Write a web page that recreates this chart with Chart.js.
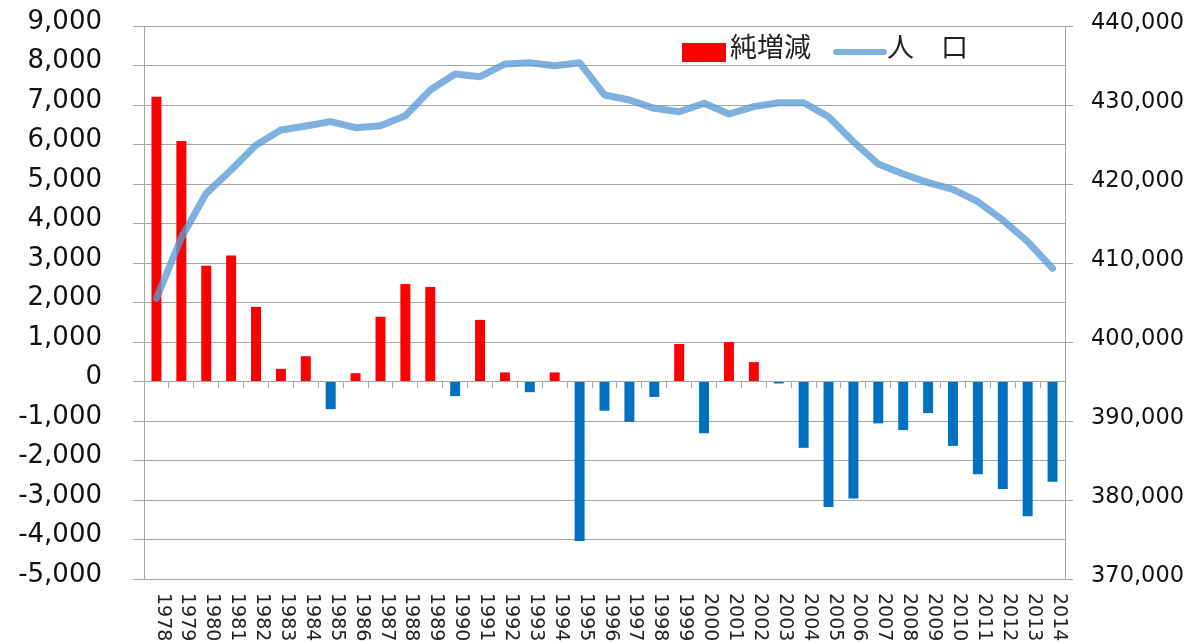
<!DOCTYPE html>
<html>
<head>
<meta charset="utf-8">
<script src="https://cdn.jsdelivr.net/npm/chart.js@4/dist/chart.umd.min.js"></script>
<style>
  html, body { margin: 0; padding: 0; background: #fff; }
  #wrap { width: 1190px; height: 642px; }
</style>
</head>
<body>
<div id="wrap"><canvas id="c" width="1190" height="642"></canvas></div>
<script>
const years = ['1978','1979','1980','1981','1982','1983','1984','1985','1986','1987','1988','1989','1990','1991','1992','1993','1994','1995','1996','1997','1998','1999','2000','2001','2002','2003','2004','2005','2006','2007','2008','2009','2010','2011','2012','2013','2014'];
const netChange = [7210, 6090, 2930, 3190, 1890, 320, 640, -700, 210, 1640, 2470, 2390, -370, 1560, 230, -270, 230, -4040, -740, -1020, -390, 950, -1310, 1000, 490, -50, -1680, -3180, -2960, -1060, -1230, -800, -1630, -2350, -2720, -3410, -2540];
const population = [405530, 413200, 418820, 421770, 424940, 426840, 427340, 427890, 427130, 427380, 428640, 431900, 433920, 433580, 435190, 435360, 434980, 435360, 431270, 430630, 429580, 429150, 430210, 428860, 429790, 430290, 430290, 428520, 425350, 422530, 421270, 420170, 419330, 417760, 415440, 412700, 409330];
const leftTicks = { min: -5000, max: 9000, step: 1000 };
const rightTicks = { min: 370000, max: 440000, step: 10000 };
const seriesNames = ['純増減', '人　口'];

const RED = '#ff0000';
const BLUE = '#0070c0';
const LINE = 'rgba(91,155,213,0.78)';
const GRID = '#a6a6a6';

const fmt = v => Number(v).toLocaleString('en-US');

const xLabelPlugin = {
  id: 'xLabels',
  afterDraw(chart) {
    const ctx = chart.ctx;
    const xs = chart.scales.x;
    ctx.save();
    ctx.fillStyle = '#222';
    ctx.font = '19px "DejaVu Sans"';
    ctx.textAlign = 'left';
    ctx.textBaseline = 'middle';
    years.forEach((lab, i) => {
      const px = xs.getPixelForValue(i) + 6;
      ctx.save();
      ctx.translate(px, 593);
      ctx.rotate(Math.PI / 2);
      ctx.fillText(lab, 0, 0);
      ctx.restore();
    });
    ctx.restore();
  }
};

const legendPlugin = {
  id: 'customLegend',
  afterDraw(chart) {
    const ctx = chart.ctx;
    const barDs = chart.data.datasets.find(d => d.type === 'bar');
    const lineDs = chart.data.datasets.find(d => d.type === 'line');
    ctx.save();
    ctx.fillStyle = RED;
    ctx.fillRect(682, 43, 44, 19);
    ctx.font = '27px "Noto Sans CJK JP"';
    ctx.fillStyle = '#222';
    ctx.textAlign = 'left';
    ctx.textBaseline = 'middle';
    ctx.fillText(barDs.label, 730, 47);
    ctx.strokeStyle = LINE;
    ctx.lineWidth = 6;
    ctx.lineCap = 'round';
    ctx.beginPath();
    ctx.moveTo(836, 52);
    ctx.lineTo(884, 52);
    ctx.stroke();
    ctx.fillText(lineDs.label, 887, 47);
    ctx.restore();
  }
};

new Chart(document.getElementById('c'), {
  data: {
    labels: years,
    datasets: [
      {
        type: 'line',
        label: seriesNames[1],
        data: population,
        yAxisID: 'y2',
        borderColor: LINE,
        backgroundColor: LINE,
        borderWidth: 7,
        pointRadius: 0,
        tension: 0,
        order: 0,
        borderJoinStyle: 'round',
        borderCapStyle: 'round'
      },
      {
        type: 'bar',
        label: seriesNames[0],
        data: netChange,
        yAxisID: 'y',
        backgroundColor: c => (c.raw < 0 ? BLUE : RED),
        barPercentage: 0.4,
        categoryPercentage: 1.0,
        order: 1
      }
    ]
  },
  options: {
    responsive: false,
    devicePixelRatio: 1,
    animation: false,
    layout: { padding: { top: 26, left: 0, right: 0, bottom: 0 } },
    plugins: { legend: { display: false }, tooltip: { enabled: false } },
    scales: {
      x: {
        type: 'category',
        offset: true,
        ticks: { display: false },
        grid: { display: false },
        border: { display: false },
        afterFit(s) { s.height = 63; }
      },
      x2: {
        type: 'category',
        axis: 'x',
        labels: years,
        offset: true,
        position: { y: 0 },
        ticks: { display: false },
        grid: { drawOnChartArea: false, offset: true, tickLength: 7, color: GRID, lineWidth: 1 },
        border: { display: false }
      },
      y: {
        type: 'linear',
        position: 'left',
        min: leftTicks.min,
        max: leftTicks.max,
        ticks: {
          stepSize: leftTicks.step,
          callback: v => fmt(v),
          font: { family: '"DejaVu Sans"', size: 26 },
          color: '#111',
          padding: 31,
          labelOffset: -4
        },
        grid: { color: GRID, tickLength: 11, lineWidth: 1 },
        border: { color: GRID },
        afterFit(s) { s.width = 144; s.paddingTop = 0; s.paddingBottom = 0; }
      },
      y2: {
        type: 'linear',
        position: 'right',
        min: rightTicks.min,
        max: rightTicks.max,
        ticks: {
          stepSize: rightTicks.step,
          callback: v => fmt(v),
          font: { family: '"DejaVu Sans"', size: 22.5 },
          color: '#111',
          padding: 18,
          labelOffset: -3
        },
        grid: { drawOnChartArea: false, color: GRID, tickLength: 8, lineWidth: 1 },
        border: { color: GRID },
        afterFit(s) { s.width = 125; s.paddingTop = 0; s.paddingBottom = 0; }
      }
    }
  },
  plugins: [xLabelPlugin, legendPlugin]
});
</script>
</body>
</html>
